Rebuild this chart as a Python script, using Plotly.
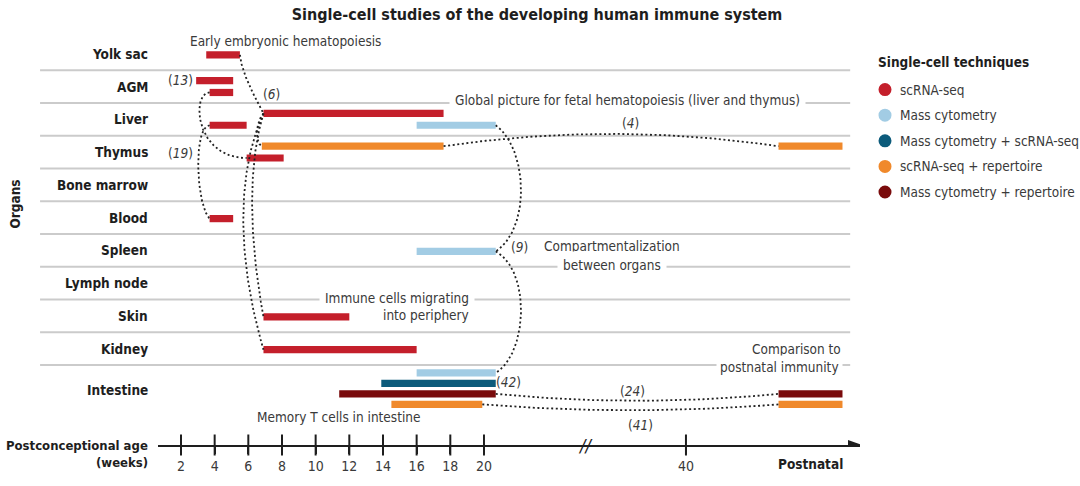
import numpy as np
import plotly.graph_objects as go

# ---------------- data ----------------
organs = ["Yolk sac", "AGM", "Liver", "Thymus", "Bone marrow", "Blood",
          "Spleen", "Lymph node", "Skin", "Kidney", "Intestine"]

techniques = ["scRNA-seq", "Mass cytometry", "Mass cytometry + scRNA-seq",
              "scRNA-seq + repertoire", "Mass cytometry + repertoire"]
tech_colors = ["#c41f2b", "#a2cce4", "#0c5b7b", "#f0892b", "#7a0b0c"]

# one entry per study bar
bar_organ = ["Yolk sac", "AGM", "AGM", "Liver", "Liver", "Liver",
             "Thymus", "Thymus", "Thymus", "Blood", "Spleen", "Skin", "Kidney",
             "Intestine", "Intestine", "Intestine", "Intestine", "Intestine", "Intestine"]
bar_tech = ["scRNA-seq", "scRNA-seq", "scRNA-seq", "scRNA-seq", "Mass cytometry", "scRNA-seq",
            "scRNA-seq + repertoire", "scRNA-seq", "scRNA-seq + repertoire", "scRNA-seq",
            "Mass cytometry", "scRNA-seq", "scRNA-seq",
            "Mass cytometry", "Mass cytometry + scRNA-seq", "Mass cytometry + repertoire",
            "scRNA-seq + repertoire", "Mass cytometry + repertoire", "scRNA-seq + repertoire"]
bar_period = ["fetal"] * 8 + ["postnatal"] + ["fetal"] * 8 + ["postnatal", "postnatal"]
bar_start = [3.5, 2.9, 3.7, 6.9, 16.0, 3.7, 6.8, 5.9, None, 3.7, 16.0, 6.9, 6.9,
             16.0, 13.9, 11.4, 14.5, None, None]
bar_end = [5.5, 5.1, 5.1, 17.6, 20.7, 5.9, 17.6, 8.1, None, 5.1, 20.7, 12.0, 16.0,
           20.7, 20.7, 20.7, 19.9, None, None]
bar_lane = [0, 0, 1, 0, 1, 1, 0, 1, 0, 0, 0, 0, 0, 0, 1, 2, 3, 2, 3]

tick_weeks = [2, 4, 6, 8, 10, 12, 14, 16, 18, 20, 40]

# (from bar, side, to bar, side, control offset 1, control offset 2)
connectors = [
    (0, "end", 3, "start", (0.1, 0.6), (-0.3, -0.3)),
    (3, "start", 6, "start", (-0.5, 0.3), (-0.4, -0.1)),
    (3, "start", 11, "start", (-0.9, 1.5), (-0.9, -2.5)),
    (3, "start", 12, "start", (-1.6, 1.8), (-1.6, -2.8)),
    (2, "start", 7, "start", (-1.1, 0.0), (-3.1, 0.0)),
    (5, "start", 9, "start", (-1.0, 0.05), (-0.8, -0.4)),
    (4, "end", 10, "end", (1.9, 0.7), (2.1, -0.7)),
    (10, "end", 13, "end", (2.1, 0.6), (1.9, -0.6)),
    (6, "end", 8, "start", (6.6, -0.5), (-6.6, -0.5)),
    (15, "end", 17, "start", (5.6, 0.28), (-5.6, 0.28)),
    (16, "end", 18, "start", (5.9, 0.24), (-5.9, 0.24)),
]

# ---------------- axis geometry ----------------
BREAK_AT = 26.0          # axis break position (weeks)
POSTNATAL_BAND = (37.5, 41.3)


def to_axis(w):
    return w if w <= BREAK_AT else BREAK_AT + (w - BREAK_AT) * 6.0 / 14.0


row_y = {o: float(i) for i, o in enumerate(organs)}
row_y["Intestine"] = 10.22
lanes_in_row = {}
for o, l in zip(bar_organ, bar_lane):
    lanes_in_row[o] = max(lanes_in_row.get(o, 0), l + 1)


def lane_y(organ, lane):
    n = lanes_in_row[organ]
    if n == 1:
        return row_y[organ] + 0.03
    step = 0.36 if n == 2 else 0.32
    return row_y[organ] + (lane - (n - 1) / 2) * step


bx0, bx1, by = [], [], []
for o, p, s, e, l in zip(bar_organ, bar_period, bar_start, bar_end, bar_lane):
    if p == "postnatal":
        bx0.append(POSTNATAL_BAND[0]); bx1.append(POSTNATAL_BAND[1])
    else:
        bx0.append(to_axis(s)); bx1.append(to_axis(e))
    by.append(lane_y(o, l))

FONT = "DejaVu Sans Condensed, Liberation Sans Narrow, Arial Narrow, Roboto, sans-serif"
TXT = "#3a3a3a"
DARK = "#1e1e1e"
FS = 13.5      # regular annotation size
FB = 13.5      # bold label size

fig = go.Figure()

# bars
for t, c in zip(techniques, tech_colors):
    idx = [i for i, bt in enumerate(bar_tech) if bt == t]
    fig.add_trace(go.Bar(
        orientation="h",
        base=[bx0[i] for i in idx],
        x=[bx1[i] - bx0[i] for i in idx],
        y=[by[i] for i in idx],
        width=0.22, marker=dict(color=c, line=dict(width=0)),
        name=t, showlegend=False, hoverinfo="skip"))


# connectors
def bez(p0, p1, p2, p3, n=80):
    t = np.linspace(0, 1, n)[:, None]
    return ((1 - t) ** 3) * p0 + 3 * ((1 - t) ** 2) * t * p1 + 3 * (1 - t) * t ** 2 * p2 + t ** 3 * p3


for a, sa, b, sb, c1, c2 in connectors:
    p0 = np.array([bx1[a] if sa == "end" else bx0[a], by[a]])
    p3 = np.array([bx1[b] if sb == "end" else bx0[b], by[b]])
    pts = bez(p0, p0 + np.array(c1), p3 + np.array(c2), p3)
    fig.add_trace(go.Scatter(x=pts[:, 0], y=pts[:, 1], mode="lines",
                             line=dict(color="#222", width=1.8, dash="2px,2.6px"),
                             showlegend=False, hoverinfo="skip"))

Y_TOP, Y_BOT = -0.727, 11.94
# axis tick crosses
tick_pos = [to_axis(w) for w in tick_weeks]
fig.add_trace(go.Scatter(x=tick_pos, y=[Y_BOT] * len(tick_pos), mode="markers",
                         marker=dict(symbol="line-ns", size=15, line=dict(width=2, color=DARK)),
                         cliponaxis=False, showlegend=False, hoverinfo="skip"))

shapes = []
for i in range(10):
    shapes.append(dict(type="line", xref="paper", yref="y", x0=-0.168, x1=0.986,
                       y0=i + 0.5, y1=i + 0.5, line=dict(color="#cbcbcb", width=2), layer="below"))
# arrow head
shapes.append(dict(type="path", xref="x", yref="y", xsizemode="pixel", ysizemode="pixel",
                   xanchor=42.34, yanchor=Y_BOT, path="M 2 0 L -12 5 L -12 -5 Z",
                   fillcolor=DARK, line=dict(width=0)))
# legend symbols
LEG_X = (885 - 158) / 702
for i, c in enumerate(tech_colors):
    ly = (448 - (90 + i * 25.8)) / 418
    shapes.append(dict(type="circle", xref="paper", yref="paper", xsizemode="pixel",
                       ysizemode="pixel", xanchor=LEG_X, yanchor=ly, x0=-6.5, x1=6.5,
                       y0=-6.5, y1=6.5, fillcolor=c, line=dict(width=0)))

ann = []
for o in organs:
    ann.append(dict(xref="paper", yref="y", x=-0.012, y=row_y[o] + (0.05 if o == "Intestine" else 0),
                    text=f"<b>{o}</b>", showarrow=False, xanchor="right", yanchor="middle",
                    font=dict(size=FB, color=DARK)))


def note(x, y, text, xanchor="center", bg=None, size=FS, color=TXT, pad=1):
    d = dict(xref="x", yref="y", x=x, y=y, text=text, showarrow=False, xanchor=xanchor,
             yanchor="middle", font=dict(size=size, color=color), borderpad=pad)
    if bg:
        d["bgcolor"] = bg
    ann.append(d)


note(8.2, -0.38, "Early embryonic hematopoiesis")
note(1.98, 0.8, "(<i>13</i>)")
note(7.4, 1.23, "(<i>6</i>)")
note(28.5, 1.42, "Global picture for fetal hematopoiesis (liver and thymus)", bg="white", pad=5)
note(28.7, 2.1, "(<i>4</i>)")
note(1.95, 3.02, "(<i>19</i>)")
note(22.1, 5.9, "(<i>9</i>)")
note(27.6, 5.86, "Compartmentalization")
note(27.6, 6.46, "between organs", bg="white", pad=5)
note(14.86, 7.44, "Immune cells migrating", bg="white", pad=5)
note(19.2, 7.98, "into periphery", xanchor="right")
note(41.33, 9.02, "Comparison to", xanchor="right")
note(41.33, 9.56, "postnatal immunity", xanchor="right", bg="white", pad=3)
note(21.43, 10.02, "(<i>42</i>)")
note(28.8, 10.29, "(<i>24</i>)")
note(29.3, 11.32, "(<i>41</i>)")
note(11.33, 11.08, "Memory T cells in intestine")

# axis break mark
ann.append(dict(xref="x", yref="paper", x=BREAK_AT, y=0, text="<i>//</i>", showarrow=False,
                font=dict(size=18, color=DARK), xanchor="center", yanchor="middle"))
ann.append(dict(xref="paper", yref="paper", x=-0.012, y=-0.002, text="<b>Postconceptional age</b>",
                showarrow=False, xanchor="right", yanchor="middle", font=dict(size=13, color=DARK)))
ann.append(dict(xref="paper", yref="paper", x=-0.012, y=-0.043, text="<b>(weeks)</b>",
                showarrow=False, xanchor="right", yanchor="middle", font=dict(size=13, color=DARK)))
ann.append(dict(xref="x", yref="paper", x=39.4, y=-0.045, text="<b>Postnatal</b>",
                showarrow=False, xanchor="center", yanchor="middle", font=dict(size=FB, color=DARK)))
ann.append(dict(xref="paper", yref="paper", x=-0.204, y=(448 - 205) / 418, text="<b>Organs</b>",
                showarrow=False, textangle=-90, xanchor="center", yanchor="middle",
                font=dict(size=FB, color=DARK)))
# legend texts
ann.append(dict(xref="paper", yref="paper", x=1.0228, y=(448 - 62) / 418,
                text="<b>Single-cell techniques</b>", showarrow=False, xanchor="left",
                yanchor="middle", font=dict(size=FB, color=DARK)))
for i, t in enumerate(techniques):
    ann.append(dict(xref="paper", yref="paper", x=1.054, y=(448 - (90 + i * 25.8)) / 418,
                    text=t, showarrow=False, xanchor="left", yanchor="middle",
                    font=dict(size=FS, color=TXT)))

fig.update_layout(
    width=1080, height=486,
    margin=dict(l=158, r=220, t=30, b=38),
    paper_bgcolor="white", plot_bgcolor="white",
    font=dict(family=FONT, color=TXT),
    title=dict(text="<b>Single-cell studies of the developing human immune system</b>",
               x=537 / 1080, xanchor="center", xref="container", y=1 - 14 / 486, yanchor="middle",
               yref="container", font=dict(size=16, color=DARK)),
    barmode="overlay",
    xaxis=dict(range=[0.634, 42.34], showgrid=False, zeroline=False, showline=True,
               linecolor=DARK, linewidth=2, tickvals=tick_pos,
               ticktext=[str(w) for w in tick_weeks], ticks="outside", ticklen=7,
               tickwidth=2, tickcolor=DARK, tickfont=dict(size=14, color=TXT), fixedrange=True),
    yaxis=dict(range=[Y_BOT, Y_TOP], visible=False, fixedrange=True),
    shapes=shapes, annotations=ann, showlegend=False,
)

fig.write_html("out.html")
